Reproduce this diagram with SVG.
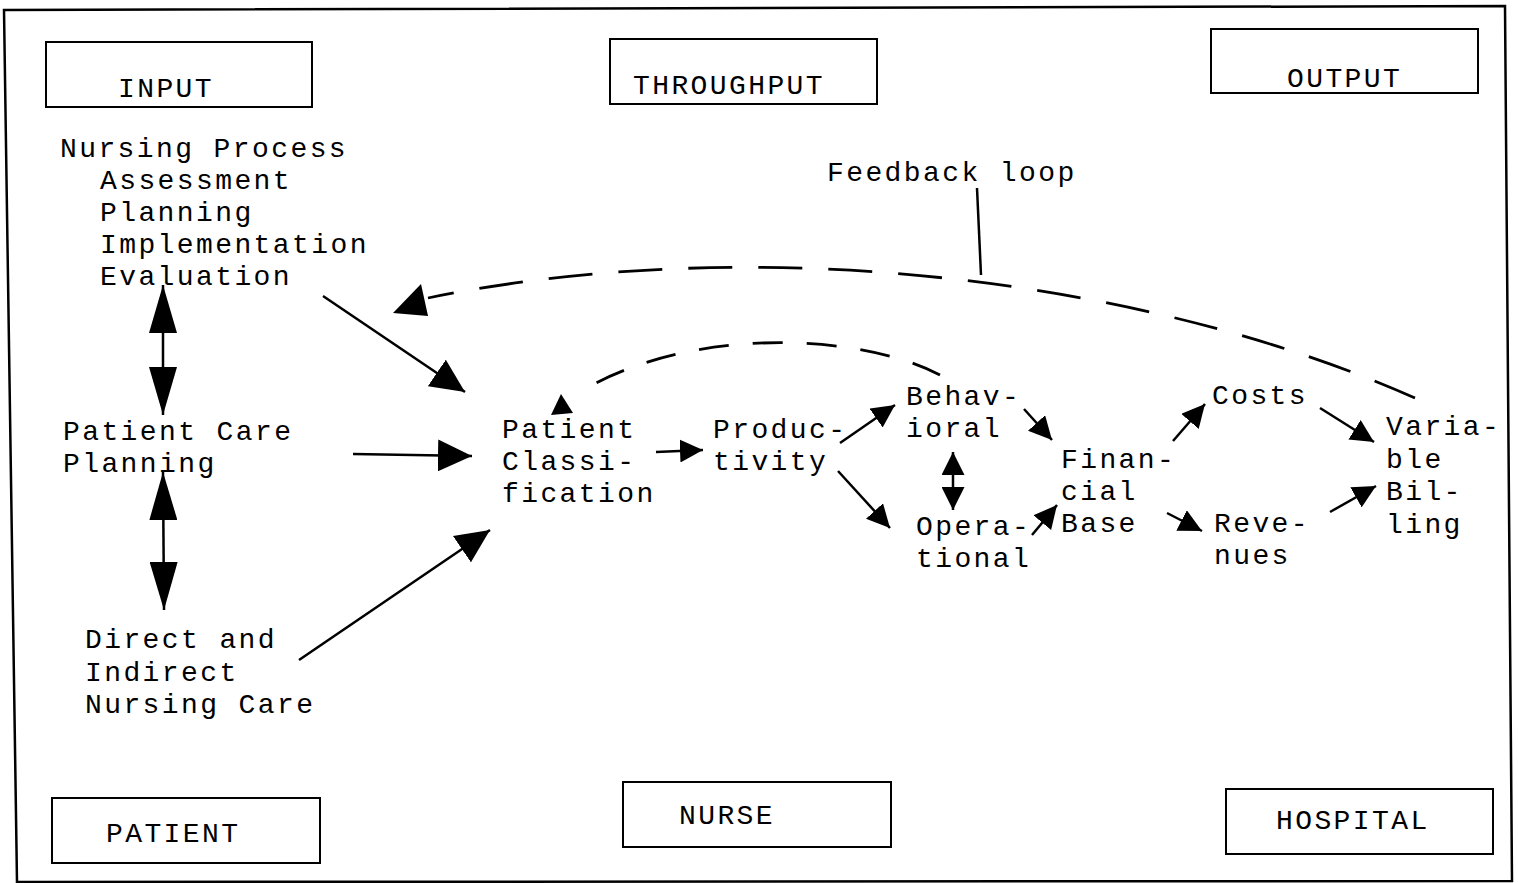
<svg xmlns="http://www.w3.org/2000/svg" width="1518" height="883" viewBox="0 0 1518 883">
<style>
text{font-family:"Liberation Mono","Courier New",monospace;font-size:28px;letter-spacing:2.4px;fill:#000}
.box{fill:#fff;stroke:#000;stroke-width:2}
.ln{fill:none;stroke:#000;stroke-width:2.5}
.dash{fill:none;stroke:#000;stroke-width:2.8;stroke-dasharray:44 26}
.dash2{fill:none;stroke:#000;stroke-width:2.8;stroke-dasharray:30 24}
.big{marker-end:url(#hb)}
.sm{marker-end:url(#hs)}
.tall{marker-start:url(#ht);marker-end:url(#ht)}
.smd{marker-start:url(#hs);marker-end:url(#hs)}
</style>
<defs>
<marker id="hb" viewBox="0 0 10 10" refX="10" refY="5" markerUnits="userSpaceOnUse" markerWidth="34" markerHeight="32" orient="auto-start-reverse" preserveAspectRatio="none"><path d="M0,0L10,5L0,10z" fill="#000"/></marker>
<marker id="hs" viewBox="0 0 10 10" refX="10" refY="5" markerUnits="userSpaceOnUse" markerWidth="23" markerHeight="23" orient="auto-start-reverse" preserveAspectRatio="none"><path d="M0,0L10,5L0,10z" fill="#000"/></marker>
<marker id="ht" viewBox="0 0 10 10" refX="10" refY="5" markerUnits="userSpaceOnUse" markerWidth="48" markerHeight="28" orient="auto-start-reverse" preserveAspectRatio="none"><path d="M0,0L10,5L0,10z" fill="#000"/></marker>
</defs>
<polygon points="4,10 1505,6 1512,881 17,882" fill="none" stroke="#000" stroke-width="2.5"/>
<g id="input"><rect class="box" x="46" y="42" width="266" height="65"/><text x="118" y="97">INPUT</text></g>
<g id="throughput"><rect class="box" x="610" y="39" width="267" height="65"/><text x="633" y="94">THROUGHPUT</text></g>
<g id="output"><rect class="box" x="1211" y="29" width="267" height="64"/><text x="1287" y="87">OUTPUT</text></g>
<g id="patient"><rect class="box" x="52" y="798" width="268" height="65"/><text x="106" y="842">PATIENT</text></g>
<g id="nurse"><rect class="box" x="623" y="782" width="268" height="65"/><text x="679" y="824">NURSE</text></g>
<g id="hospital"><rect class="box" x="1226" y="789" width="267" height="65"/><text x="1276" y="829">HOSPITAL</text></g>
<g id="nursing-process"><text x="60" y="157">Nursing Process</text><text x="100" y="189">Assessment</text><text x="100" y="221">Planning</text><text x="100" y="253">Implementation</text><text x="100" y="285">Evaluation</text></g>
<g id="patient-care-planning"><text x="63" y="440">Patient Care</text><text x="63" y="472">Planning</text></g>
<g id="direct-indirect"><text x="85" y="648">Direct and</text><text x="85" y="681">Indirect</text><text x="85" y="713">Nursing Care</text></g>
<g id="feedback-label"><text x="827" y="181">Feedback loop</text></g>
<g id="patient-classification"><text x="502" y="438">Patient</text><text x="502" y="470">Classi-</text><text x="502" y="502">fication</text></g>
<g id="productivity"><text x="713" y="438">Produc-</text><text x="713" y="470">tivity</text></g>
<g id="behavioral"><text x="906" y="405">Behav-</text><text x="906" y="437">ioral</text></g>
<g id="operational"><text x="916" y="535">Opera-</text><text x="916" y="567">tional</text></g>
<g id="financial-base"><text x="1061" y="468">Finan-</text><text x="1061" y="500">cial</text><text x="1061" y="532">Base</text></g>
<g id="costs"><text x="1212" y="404">Costs</text></g>
<g id="revenues"><text x="1214" y="532">Reve-</text><text x="1214" y="564">nues</text></g>
<g id="variable-billing"><text x="1386" y="435">Varia-</text><text x="1386" y="468">ble</text><text x="1386" y="500">Bil-</text><text x="1386" y="533">ling</text></g>
<g id="connectors">
<path class="ln big" d="M323,296L465,392"/>
<path class="ln big" d="M353,454L472,456"/>
<path class="ln big" d="M299,660L490,530"/>
<path class="ln tall" d="M163,285L163,415"/>
<path class="ln tall" d="M163,472L164,610"/>
<path class="ln sm" d="M656,452L703,450"/>
<path class="ln sm" d="M840,443L895,405"/>
<path class="ln sm" d="M838,471L890,528"/>
<path class="ln sm" d="M1024,409L1052,440"/>
<path class="ln smd" d="M953,452L953,510"/>
<path class="ln sm" d="M1032,535L1057,505"/>
<path class="ln sm" d="M1173,441L1205,404"/>
<path class="ln sm" d="M1167,513L1202,531"/>
<path class="ln sm" d="M1320,408L1374,442"/>
<path class="ln sm" d="M1330,512L1376,486"/>
<path class="dash" d="M1415,398C1150,280 760,230 428,298"/>
<path d="M393,313L421,284L428,316z" fill="#000"/>
<path class="dash2" d="M940,375C860,333 690,325 578,393"/>
<path d="M551,415L561,394L573,413z" fill="#000"/>
<path class="ln" d="M977,188L981,275" stroke-width="2.2"/>
</g>
</svg>
